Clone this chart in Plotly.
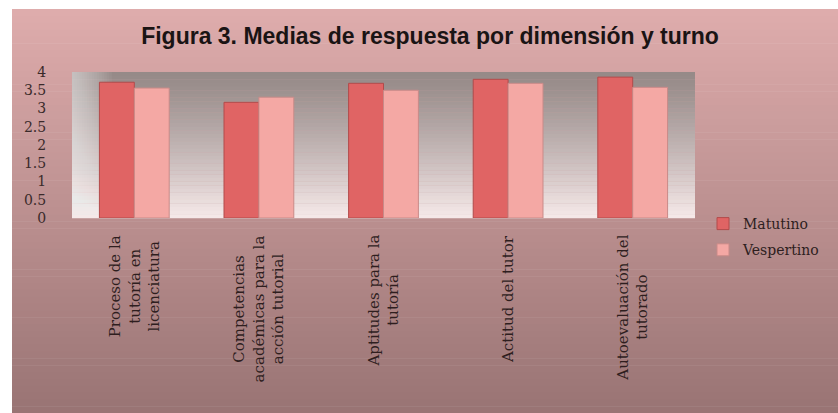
import plotly.graph_objects as go

categorias = [
    "Proceso de la<br>tutoría en<br>licenciatura",
    "Competencias<br>académicas para la<br>acción tutorial",
    "Aptitudes para la<br>tutoría",
    "Actitud del tutor",
    "Autoevaluación del<br>tutorado",
]
matutino = [3.72, 3.17, 3.69, 3.80, 3.86]
vespertino = [3.56, 3.31, 3.50, 3.69, 3.58]
y_ticks = [0, 0.5, 1, 1.5, 2, 2.5, 3, 3.5, 4]
y_labels = ["0", "0.5", "1", "1.5", "2", "2.5", "3", "3.5", "4"]

W, H = 838, 413
L, R, T, B = 72, 143, 72, 195
PW = W - L - R
PH = H - T - B


def px_x(px):
    return (px - L) / PW


def px_y(py):
    return (H - B - py) / PH


def lerp(c1, c2, t):
    return "rgb(%d,%d,%d)" % tuple(round(a + (b - a) * t) for a, b in zip(c1, c2))


shapes = []
# outer chart background gradient
n = 60
top_c, bot_c = (222, 172, 172), (152, 115, 115)
y_top, y_bot = 9, 420
for i in range(n):
    a = y_top + (y_bot - y_top) * i / n
    b = y_top + (y_bot - y_top) * (i + 1) / n
    shapes.append(dict(type="rect", xref="paper", yref="paper",
                       x0=px_x(12), x1=px_x(W + 20), y0=px_y(b + 0.5), y1=px_y(a),
                       fillcolor=lerp(top_c, bot_c, i / (n - 1)),
                       line=dict(width=0), layer="below"))
# plot area gradient
n2 = 40
p_top, p_bot = (150, 138, 136), (245, 232, 232)
for i in range(n2):
    shapes.append(dict(type="rect", xref="x domain", yref="y domain",
                       x0=0, x1=1, y0=1 - (i + 1) / n2 - 0.002, y1=1 - i / n2,
                       fillcolor=lerp(p_top, p_bot, (i / (n2 - 1)) ** 1.2),
                       line=dict(width=0), layer="below"))
# soft light glow along the left side of the plot area
m = 16
for i in range(m):
    shapes.append(dict(type="rect", xref="x domain", yref="y domain",
                       x0=0, x1=(i + 1) * 0.004, y0=0, y1=1,
                       fillcolor="white", opacity=0.045,
                       line=dict(width=0), layer="below"))

fig = go.Figure()
fig.add_trace(go.Bar(x=categorias, y=matutino, name="Matutino", legendgroup="m",
                     marker=dict(color="#e06464", line=dict(color="#b24a4a", width=1))))
fig.add_trace(go.Bar(x=categorias, y=vespertino, name="Vespertino", legendgroup="v",
                     marker=dict(color="#f4a8a4", line=dict(color="#c98a88", width=1))))

annotations = []
for c in categorias:
    annotations.append(dict(x=c, xref="x", y=px_y(233), yref="paper",
                            text=c, textangle=-90, showarrow=False,
                            xanchor="center", yanchor="top", align="center",
                            font=dict(family="DejaVu Serif", size=15, color="#2e1e1e")))

fig.update_layout(
    width=W, height=H,
    margin=dict(l=L, r=R, t=T, b=B, autoexpand=False),
    paper_bgcolor="white",
    plot_bgcolor="rgba(0,0,0,0)",
    barmode="group", bargap=0.44, bargroupgap=0,
    title=dict(text="<b>Figura 3. Medias de respuesta por dimensión y turno</b>",
               x=430 / W, xref="container", xanchor="center",
               y=1 - 36 / H, yref="container", yanchor="middle",
               font=dict(family="Liberation Sans", size=23, color="#1a1414")),
    showlegend=True,
    legend=dict(x=703 / W, xref="container", y=1 - 208 / H, yref="container",
                xanchor="left", yanchor="top", itemwidth=30,
                bgcolor="rgba(0,0,0,0)", tracegroupgap=5,
                font=dict(family="DejaVu Serif", size=14, color="#2e1e1e")),
    shapes=shapes,
    annotations=annotations,
    xaxis=dict(showticklabels=False, showgrid=False, zeroline=False,
               showline=False, ticks=""),
    yaxis=dict(range=[0, 4], tickvals=y_ticks, ticktext=y_labels,
               showgrid=False, zeroline=False, showline=False,
               ticks="outside", ticklen=22, tickcolor="rgba(0,0,0,0)",
               tickfont=dict(family="DejaVu Serif", size=14, color="#3a2a2a")),
)

fig.write_html("out.html")
